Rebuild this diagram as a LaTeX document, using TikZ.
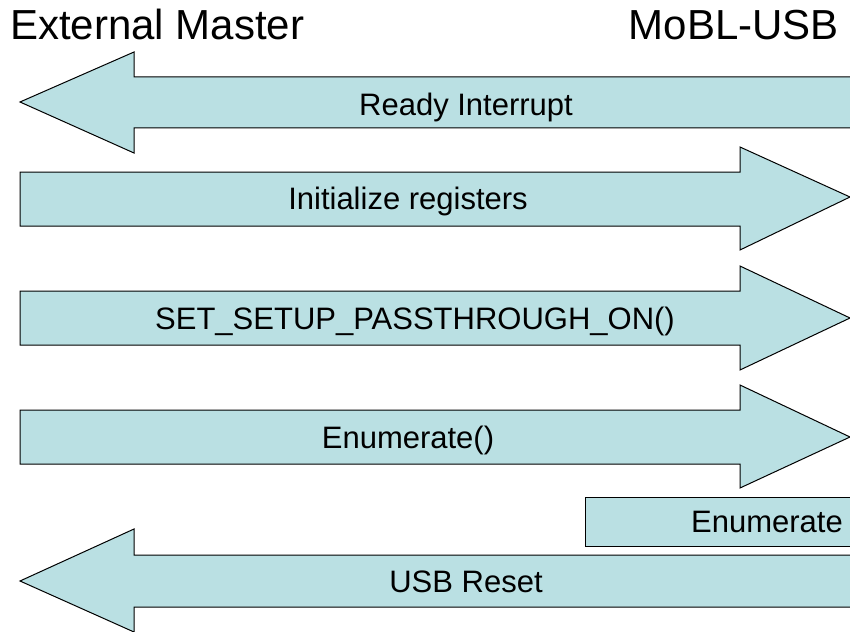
\documentclass[tikz,border=0pt]{standalone}
\usepackage{fontspec}
\setmainfont{Liberation Sans}
\definecolor{arrowfill}{RGB}{186,224,227}
\begin{document}
\begin{tikzpicture}[x=1pt,y=-1pt,
  blockarrow/.style={draw=black,line width=1pt,fill=arrowfill,line join=miter},
  title/.style={font=\fontsize{42}{48}\selectfont,inner sep=0pt},
  lbl/.style={font=\fontsize{31}{36}\selectfont,inner sep=0pt,anchor=base}]
\useasboundingbox (0,0) rectangle (850,631);
\fill[white] (0,0) rectangle (850,631);
\begin{scope}
\clip (0,0) rectangle (850,631);
% Ready Interrupt (left arrow)
\path[blockarrow] (20,102) -- (134,52) -- (134,77) -- (880,77) -- (880,128) -- (134,128) -- (134,153) -- cycle;
% Initialize registers
\path[blockarrow] (20,172) -- (740,172) -- (740,147) -- (850,197) -- (740,250) -- (740,226) -- (20,226) -- cycle;
% SET_SETUP_PASSTHROUGH_ON()
\path[blockarrow] (20,291) -- (740,291) -- (740,266) -- (850,318) -- (740,370) -- (740,345) -- (20,345) -- cycle;
% Enumerate()
\path[blockarrow] (20,410) -- (740,410) -- (740,385) -- (850,437) -- (740,488) -- (740,464) -- (20,464) -- cycle;
% Enumerate box
\path[blockarrow] (585,497) rectangle (880,546);
% USB Reset (left arrow)
\path[blockarrow] (20,581) -- (134,529) -- (134,555) -- (880,555) -- (880,607) -- (134,607) -- (134,632) -- cycle;
\end{scope}
\node[title,anchor=base west] (ext) at (10,40) {External Master};
\node[title,anchor=base east] (mobl) at (839,40) {MoBL-USB};
\node[lbl] (ready) at (466,116) {Ready Interrupt};
\node[lbl] (init) at (408,209) {Initialize registers};
\node[lbl] (setup) at (415,329) {SET\_SETUP\_PASSTHROUGH\_ON()};
\node[lbl] (enum) at (408,448) {Enumerate()};
\node[lbl] (enumbox) at (767,532) {Enumerate};
\node[lbl] (reset) at (466,592) {USB Reset};
\end{tikzpicture}
\end{document}
